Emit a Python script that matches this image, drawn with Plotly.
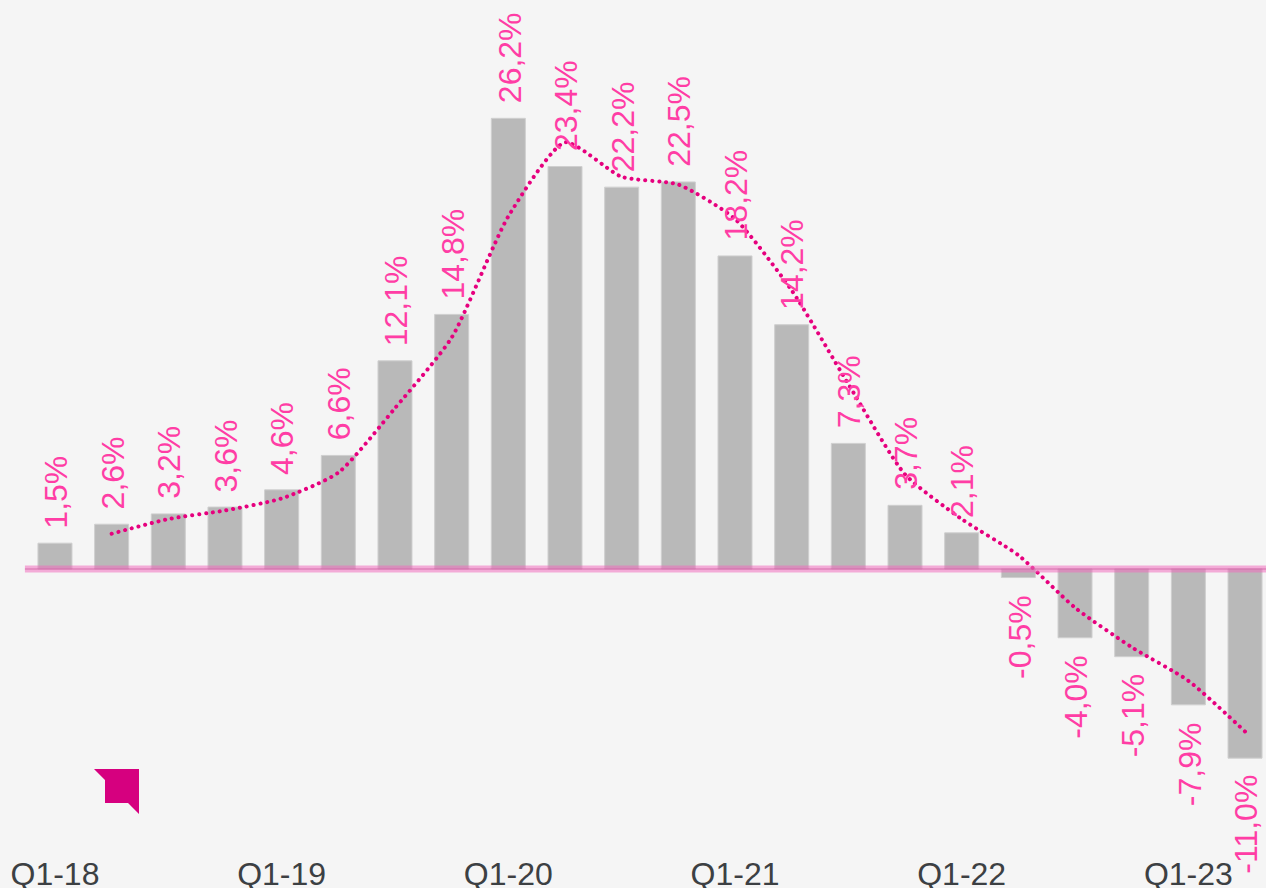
import plotly.graph_objects as go

quarters = ["Q1-18","Q2-18","Q3-18","Q4-18","Q1-19","Q2-19","Q3-19","Q4-19","Q1-20","Q2-20","Q3-20",
            "Q4-20","Q1-21","Q2-21","Q3-21","Q4-21","Q1-22","Q2-22","Q3-22","Q4-22","Q1-23","Q2-23"]
growth = [1.5,2.6,3.2,3.6,4.6,6.6,12.1,14.8,26.2,23.4,22.2,22.5,18.2,14.2,7.3,3.7,2.1,-0.5,-4.0,-5.1,-7.9,-11.0]
trend_quarters = quarters[1:]
trend = [2.05,2.9,3.4,4.1,5.6,9.35,13.45,20.5,24.8,22.8,22.35,20.35,16.2,10.75,5.5,2.9,0.8,-2.25,-4.55,-6.5,-9.45]
tick_quarters = ["Q1-18","Q1-19","Q1-20","Q1-21","Q1-22","Q1-23"]

W, H = 1266, 888
BOTTOM = 38
BG = "#f5f5f5"
positions = {q: i for i, q in enumerate(quarters)}

fig = go.Figure()
fig.add_bar(x=[positions[q] for q in quarters], y=growth, width=0.6,
            marker=dict(color="#b9b9b9", line=dict(color="#cfcfcf", width=1)), showlegend=False)
fig.add_scatter(x=[positions[q] for q in trend_quarters], y=trend, mode="lines",
                line=dict(color="#e6007e", width=4, dash="0.1px,6.8px", shape="spline", smoothing=0.6),
                showlegend=False)

for q, v in zip(quarters, growth):
    fig.add_annotation(x=positions[q], y=v, xref="x", yref="y", text=f"{v:.1f}%".replace(".", ","),
                       textangle=-90, showarrow=False, yanchor="bottom" if v >= 0 else "top",
                       yshift=13 if v >= 0 else -15, xshift=1,
                       font=dict(family="Liberation Sans", size=32, color="#ff3da5"))

fig.add_shape(type="line", xref="x", yref="y", x0=-0.53, x1=21.4, y0=0, y1=0, layer="above",
              line=dict(color="rgba(240,110,190,0.55)", width=7))
fig.add_shape(type="line", xref="x", yref="y", x0=-0.53, x1=21.4, y0=0, y1=0, layer="above",
              line=dict(color="rgba(200,80,150,0.45)", width=1.5))

# corner flag decoration (fractions of the plot area)
plot_h = H - BOTTOM
pts = [(94,769),(139,769),(139,814),(128,803),(105,803),(105,780)]
path = "M " + " L ".join(f"{px/W:.5f},{1-py/plot_h:.5f}" for px, py in pts) + " Z"
fig.add_shape(type="path", xref="paper", yref="paper", path=path,
              fillcolor="#d6007f", line=dict(width=0))

fig.update_layout(
    width=W, height=H, margin=dict(l=0, r=0, t=0, b=BOTTOM),
    paper_bgcolor=BG, plot_bgcolor=BG, bargap=0.4,
    xaxis=dict(range=[-0.97, 21.37], tickmode="array", automargin=False,
               tickvals=[positions[q] for q in tick_quarters], ticktext=tick_quarters,
               showgrid=False, zeroline=False, showline=False, ticks="", ticklabelstandoff=2,
               tickfont=dict(family="Liberation Sans", size=32, color="#3c4043")),
    yaxis=dict(range=[-16.34, 33.08], visible=False, showgrid=False, zeroline=False, automargin=False),
)

fig.write_html("out.html", config=dict(displayModeBar=False),
               post_script="document.body.style.margin='0';document.body.style.overflow='hidden';document.body.style.background='#f5f5f5';"
                           "document.querySelectorAll('.js-line').forEach(function(p){p.style.strokeLinecap='round';});")
